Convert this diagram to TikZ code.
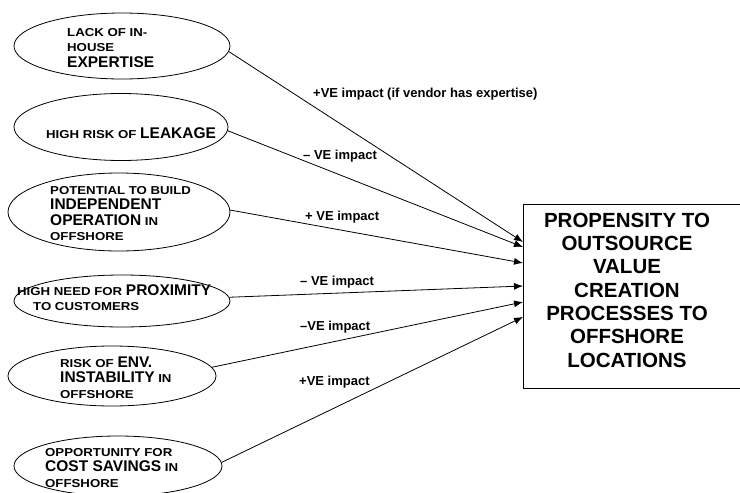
\documentclass[tikz,border=0pt]{standalone}
\usepackage{fontspec}
\setmainfont{Liberation Sans}
\newfontfamily\smfam[FakeStretch=1.15]{Liberation Sans}
\usetikzlibrary{shapes.geometric,arrows.meta}
\newcommand\smtxt{\smfam\bfseries\fontsize{11.5}{15.5}\selectfont}
\newcommand\lgword[1]{{\rmfamily\bfseries\fontsize{15.5}{15.5}\selectfont #1}}
\begin{document}
\begin{tikzpicture}[x=1pt,y=-1pt,
  ell/.style={draw, ellipse, line width=0.8pt, inner sep=0pt},
  etext/.style={anchor=north west, align=left, inner sep=0pt, font=\smtxt},
  lbl/.style={anchor=base west, inner sep=0pt, font=\bfseries\fontsize{13}{15}\selectfont},
  conn/.style={line width=0.8pt, -{Latex[length=9pt,width=7pt]}}]
\useasboundingbox (0,0) rectangle (740,493);
% ellipses
\node[ell, minimum width=216pt, minimum height=66pt] (e1) at (122,46) {};
\node[ell, minimum width=214pt, minimum height=67pt] (e2) at (121,127) {};
\node[ell, minimum width=222pt, minimum height=78pt] (e3) at (119,212) {};
\node[ell, minimum width=216pt, minimum height=52pt] (e4) at (122,301) {};
\node[ell, minimum width=208pt, minimum height=60pt] (e5) at (112,376) {};
\node[ell, minimum width=208pt, minimum height=60pt] (e6) at (118,466) {};
% ellipse texts
\node[etext] (t1) at (67,28) {LACK OF IN-\\HOUSE\\\lgword{EXPERTISE}};
\node[etext] (t2) at (46,127.4) {HIGH RISK OF \lgword{LEAKAGE}};
\node[etext] (t3) at (50,186) {POTENTIAL TO BUILD\\\lgword{INDEPENDENT}\\\lgword{OPERATION} IN\\OFFSHORE};
\node[etext] (t4) at (17,284.4) {HIGH NEED FOR \lgword{PROXIMITY}\\\hspace*{16pt}TO CUSTOMERS};
\node[etext] (t5) at (60,356.4) {RISK OF \lgword{ENV.}\\\lgword{INSTABILITY} IN\\OFFSHORE};
\node[etext] (t6) at (45,448) {OPPORTUNITY FOR\\\lgword{COST SAVINGS} IN\\OFFSHORE};
% target box
\node[draw, line width=0.9pt, anchor=north west, minimum width=240pt, minimum height=184pt, inner sep=0pt] (box) at (523,204) {};
\node[anchor=north, align=center, inner sep=0pt, font=\bfseries\fontsize{20.5}{23.3}\selectfont] (boxtext) at (627,212.7)
  {PROPENSITY TO\\OUTSOURCE\\VALUE\\CREATION\\PROCESSES TO\\OFFSHORE\\LOCATIONS};
% connectors
\draw[conn] (e1.-3) -- ([yshift=-38pt]box.north west);
\draw[conn] (e2.-2) -- ([yshift=-43pt]box.north west);
\draw[conn] (e3.1) -- ([yshift=-59pt]box.north west);
\draw[conn] (e4.2) -- ([yshift=-82pt]box.north west);
\draw[conn] (e5.5) -- ([yshift=-98pt]box.north west);
\draw[conn] (e6.2) -- ([yshift=-113pt]box.north west);
% labels
\node[lbl] (l1) at (313,97.7) {+VE impact (if vendor has expertise)};
\node[lbl] (l2) at (303,159.7) {– VE impact};
\node[lbl] (l3) at (305,220.7) {+ VE impact};
\node[lbl] (l4) at (300,285.7) {– VE impact};
\node[lbl] (l5) at (300,330.7) {–VE impact};
\node[lbl] (l6) at (299,385.7) {+VE impact};
\end{tikzpicture}
\end{document}
